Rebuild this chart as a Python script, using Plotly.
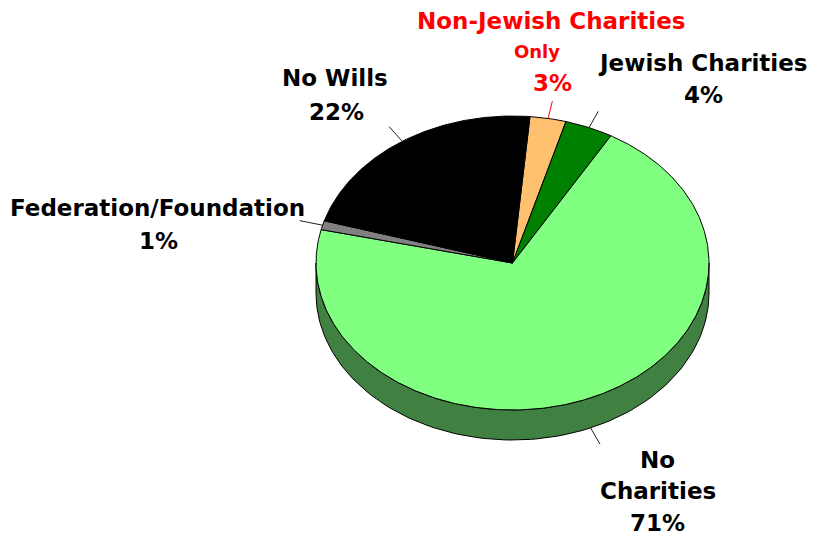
import numpy as np
import plotly.graph_objects as go

# ---- data ----
categories = ["Non-Jewish Charities Only", "Jewish Charities", "No Charities",
              "Federation/Foundation", "No Wills"]
values = [3, 4, 71, 1, 22]
name_lines = [["Non-Jewish Charities", "Only"], ["Jewish Charities"], ["No", "Charities"],
              ["Federation/Foundation"], ["No Wills"]]

# ---- style ----
top_colors = ["#FFC070", "#008000", "#80FF80", "#808080", "#000000"]
side_colors = ["#B08040", "#004000", "#408040", "#505050", "#000000"]
text_colors = ["#FF0000", "#000000", "#000000", "#000000", "#000000"]
line_sizes = [[23, 18, 23], [23, 23], [23, 23, 23], [23, 23], [23, 23]]
label_pos = [
    [(551.7, 21), (536.7, 51), (552.3, 83.3)],
    [(702.8, 62.5), (703.3, 94.5)],
    [(657.5, 459.5), (657.8, 490.5), (657.8, 522.5)],
    [(157.5, 208), (158, 240.5)],
    [(335, 78), (336.3, 112)],
]
W, H = 814, 537
cx, cy, rx, ry, depth = 512.5, 263.0, 196.5, 147.0, 30.0
start_deg = 5.1
FONT = "DejaVu Sans"


def pt(t_deg, scale=1.0, dz=0.0):
    t = np.radians(t_deg)
    return cx + scale * rx * np.sin(t), cy - scale * ry * np.cos(t) + dz


total = float(sum(values))
bounds = [start_deg]
for v in values:
    bounds.append(bounds[-1] + 360.0 * v / total)

fig = go.Figure()

# side walls (front half only)
for i in range(len(values)):
    a, b = bounds[i], bounds[i + 1]
    for off in (0, 360):
        lo, hi = max(a, 90 + off), min(b, 270 + off)
        if lo < hi:
            ts = np.linspace(lo, hi, 120)
            xt, yt = pt(ts)
            xb, yb = pt(ts[::-1], dz=depth)
            fig.add_trace(go.Scatter(
                x=np.concatenate([xt, xb, xt[:1]]), y=np.concatenate([yt, yb, yt[:1]]),
                mode="lines", fill="toself", fillcolor=side_colors[i],
                line=dict(color="#000000", width=1), hoverinfo="skip", showlegend=False))

# top faces
for i in range(len(values)):
    a, b = bounds[i], bounds[i + 1]
    ts = np.linspace(a, b, max(8, int((b - a) * 2)))
    xa, ya = pt(ts)
    fig.add_trace(go.Scatter(
        x=np.concatenate([[cx], xa, [cx]]), y=np.concatenate([[cy], ya, [cy]]),
        mode="lines", fill="toself", fillcolor=top_colors[i],
        line=dict(color="#000000", width=1), hoverinfo="skip", showlegend=False,
        name=categories[i]))

# leader lines
for i in range(len(values)):
    mid = (bounds[i] + bounds[i + 1]) / 2
    dz = depth if np.cos(np.radians(mid)) < 0 else 0.0
    x0, y0 = pt(mid, 1.0, dz)
    x1, y1 = pt(mid, 1.12, dz)
    fig.add_trace(go.Scatter(x=[x0, x1], y=[y0, y1], mode="lines",
                             line=dict(color=text_colors[i] if i == 0 else "#202020", width=1),
                             hoverinfo="skip", showlegend=False))

# labels
annotations = []
for i in range(len(values)):
    lines = name_lines[i] + [f"{values[i]}%"]
    for j, txt in enumerate(lines):
        x, y = label_pos[i][j]
        annotations.append(dict(
            x=x, y=y, xref="x", yref="y", text=f"<b>{txt}</b>", showarrow=False,
            xanchor="center", yanchor="middle",
            font=dict(family=FONT, size=line_sizes[i][j], color=text_colors[i])))

fig.update_layout(
    width=W, height=H, margin=dict(l=0, r=0, t=0, b=0),
    paper_bgcolor="white", plot_bgcolor="white",
    xaxis=dict(range=[0, W], visible=False, fixedrange=True),
    yaxis=dict(range=[H, 0], visible=False, fixedrange=True),
    annotations=annotations, showlegend=False,
)

fig.write_html("out.html", config={"displayModeBar": False},
               post_script="document.body.style.margin='0';document.body.style.overflow='hidden';")
